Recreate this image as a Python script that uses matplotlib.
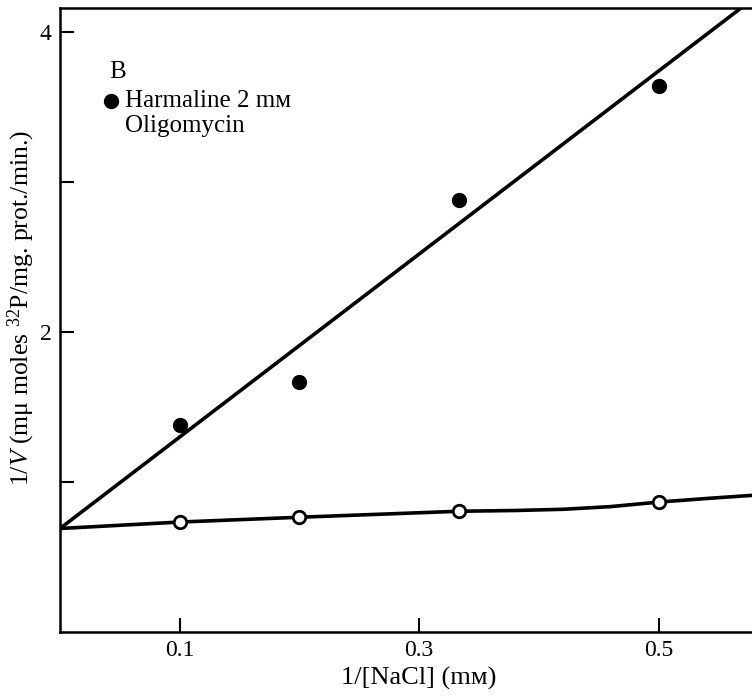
import matplotlib
matplotlib.use("Agg")
import matplotlib.pyplot as plt
import numpy as np

# Data
inv_nacl = [0.1, 0.2, 1/3, 0.5]
harmaline_oligo = [1.38, 1.67, 2.88, 3.64]     # filled circles
control = [0.733, 0.765, 0.805, 0.870]          # open circles

# fitted line for filled circles (hand-drawn straight line)
fit_x = [0.0, 0.60]
fit_y = [0.69, 0.69 + 6.10 * 0.60]

# hand-drawn curve through open circles
curve_x = [0.0, 0.1, 0.2, 1/3, 0.38, 0.42, 0.46, 0.5, 0.54, 0.58]
curve_y = [0.69, 0.733, 0.765, 0.805, 0.810, 0.818, 0.836, 0.866, 0.890, 0.912]

xticks = [0.1, 0.3, 0.5]
xticklabels = ["0.1", "0.3", "0.5"]
yticks_major = [2, 4]
yticks_minor = [1, 3]

plt.rcParams['font.family'] = ['Liberation Serif', 'DejaVu Serif']
plt.rcParams['mathtext.fontset'] = 'custom'
plt.rcParams['mathtext.rm'] = 'Liberation Serif'
plt.rcParams['mathtext.it'] = 'Liberation Serif:italic'

fig = plt.figure(figsize=(7.52, 6.97), dpi=100)
ax = fig.add_axes([60/752, 1 - 632/697, 1 - 60/752, (632 - 8)/697])

ax.plot(fit_x, fit_y, color='black', lw=2.6, solid_capstyle='butt', zorder=2)
ax.plot(curve_x, curve_y, color='black', lw=2.6, zorder=2)
ax.plot(inv_nacl, harmaline_oligo, 'o', ms=10, color='black', zorder=3)
ax.plot(inv_nacl, control, 'o', ms=9, mfc='white', mec='black', mew=2.0, zorder=3)

ax.set_xlim(0, 0.578)
ax.set_ylim(0, 4.16)

ax.spines['right'].set_visible(False)
for s in ['left', 'bottom', 'top']:
    ax.spines[s].set_linewidth(1.8)

ax.set_xticks(xticks)
ax.set_xticklabels(xticklabels)
ax.set_yticks(yticks_major)
ax.set_yticks(yticks_minor, minor=True)
ax.tick_params(axis='both', which='both', direction='in', length=10, width=1.5,
               labelsize=17, pad=6)
ax.tick_params(axis='x', which='both', top=False)
ax.tick_params(axis='y', which='minor', labelleft=False)

ax.set_xlabel("1/[NaCl] (mм)", fontsize=19)
ax.xaxis.set_label_coords(0.519, -0.056)
ax.set_ylabel(r"1/$\mathit{V}$ (mμ moles $^{32}$P/mg. prot./min.)", fontsize=18.5)
ax.yaxis.set_label_coords(-0.033, 0.52)

ax.text(0.0415, 3.73, "B", fontsize=18, ha='left', va='center')
ax.plot([0.0425], [3.54], 'o', ms=10, color='black', clip_on=False)
ax.text(0.054, 3.54, "Harmaline 2 mм", fontsize=18, ha='left', va='center')
ax.text(0.054, 3.375, "Oligomycin", fontsize=18, ha='left', va='center')

fig.savefig("out.png", dpi=100)
